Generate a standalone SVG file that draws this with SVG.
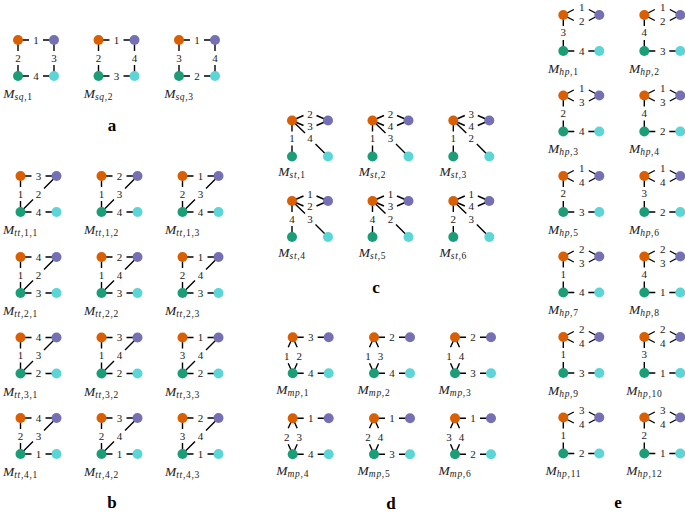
<svg xmlns="http://www.w3.org/2000/svg" xmlns:xlink="http://www.w3.org/1999/xlink" width="685" height="514" viewBox="0 0 685 514">
<style>
.cn{stroke:#000;stroke-width:1.4;fill:none;stroke-linecap:butt}
.o{fill:#d95f02}.p{fill:#7570b3}.g{fill:#1b9e77}.c{fill:#5bd5d5}
.el{font-family:"Liberation Serif",serif;font-size:11px;fill:#222;text-anchor:middle}
.nm{font-family:"Liberation Serif",serif;font-size:13.5px;font-style:italic;fill:#222;text-anchor:middle}
.sb{font-size:9.5px;letter-spacing:0.7px}
.up{font-style:normal}
.sec{font-family:"Liberation Serif",serif;font-size:17px;font-weight:bold;fill:#000;text-anchor:middle}
</style>
<defs>
<g id="q"><circle class="o" r="5"/><circle class="p" cx="36" r="5"/><circle class="g" cy="36" r="5"/><circle class="c" cx="36" cy="36" r="5"/></g>
<path id="e-sq" d="M0 0H11M25 0H36M0 0V11M0 25V36M36 0V11M36 25V36M0 36H11M25 36H36"/>
<path id="e-tt" d="M0 0H11M25 0H36M0 0V11M0 25V36M0 36H11M25 36H36M0 36L12.5 23.5M23.5 12.5L36 0"/>
<path id="e-st" d="M0 0L11.5 -5M24.5 -5L36 0M0 0L11.5 5M24.5 5L36 0M0 0V11M0 25V36M0 0L13 12.5M23.5 23.5L36 36"/>
<path id="e-mp" d="M0 0H11M25 0H36M0 36H11M25 36H36M0 0L-4.5 10M-4.5 26L0 36M0 0L4.5 10M4.5 26L0 36"/>
<path id="e-hp" d="M0 0L10.5 -5.5M25.5 -5.5L36 0M0 0L10.5 5.5M25.5 5.5L36 0M0 0V11M0 25V36M0 36H11M25 36H36"/>
</defs>
<g id="connectors" class="cn">
<use href="#e-sq" x="18" y="40"/><use href="#e-sq" x="98.5" y="40"/><use href="#e-sq" x="179" y="40"/>
<use href="#e-tt" x="20.5" y="176"/><use href="#e-tt" x="101.5" y="176"/><use href="#e-tt" x="182.5" y="176"/>
<use href="#e-tt" x="20.5" y="257"/><use href="#e-tt" x="101.5" y="257"/><use href="#e-tt" x="182.5" y="257"/>
<use href="#e-tt" x="20.5" y="337.5"/><use href="#e-tt" x="101.5" y="337.5"/><use href="#e-tt" x="182.5" y="337.5"/>
<use href="#e-tt" x="20.5" y="418"/><use href="#e-tt" x="101.5" y="418"/><use href="#e-tt" x="182.5" y="418"/>
<use href="#e-st" x="292" y="120.5"/><use href="#e-st" x="372.5" y="120.5"/><use href="#e-st" x="453.3" y="120.5"/>
<use href="#e-st" x="292" y="201"/><use href="#e-st" x="372.5" y="201"/><use href="#e-st" x="453.3" y="201"/>
<use href="#e-mp" x="292.7" y="337.3"/><use href="#e-mp" x="374" y="337.3"/><use href="#e-mp" x="455" y="337.3"/>
<use href="#e-mp" x="292.7" y="418.3"/><use href="#e-mp" x="374" y="418.3"/><use href="#e-mp" x="455" y="418.3"/>
<use href="#e-hp" x="563.3" y="15"/><use href="#e-hp" x="644.3" y="15"/>
<use href="#e-hp" x="563.3" y="95.5"/><use href="#e-hp" x="644.3" y="95.5"/>
<use href="#e-hp" x="563.3" y="176"/><use href="#e-hp" x="644.3" y="176"/>
<use href="#e-hp" x="563.3" y="256.5"/><use href="#e-hp" x="644.3" y="256.5"/>
<use href="#e-hp" x="563.3" y="337"/><use href="#e-hp" x="644.3" y="337"/>
<use href="#e-hp" x="563.3" y="417.5"/><use href="#e-hp" x="644.3" y="417.5"/>
</g>

<!-- a: squares -->
<g id="m-sq1" transform="translate(18,40)"><use href="#q"/><text class="el" x="18" y="3.8">1</text><text class="el" x="0" y="21.8">2</text><text class="el" x="36" y="21.8">3</text><text class="el" x="18" y="39.8">4</text><text class="nm" y="58">M<tspan class="sb" dy="2.3">sq</tspan><tspan class="sb up">,1</tspan></text></g>
<g id="m-sq2" transform="translate(98.5,40)"><use href="#q"/><text class="el" x="18" y="3.8">1</text><text class="el" x="0" y="21.8">2</text><text class="el" x="36" y="21.8">4</text><text class="el" x="18" y="39.8">3</text><text class="nm" y="58">M<tspan class="sb" dy="2.3">sq</tspan><tspan class="sb up">,2</tspan></text></g>
<g id="m-sq3" transform="translate(179,40)"><use href="#q"/><text class="el" x="18" y="3.8">1</text><text class="el" x="0" y="21.8">3</text><text class="el" x="36" y="21.8">4</text><text class="el" x="18" y="39.8">2</text><text class="nm" y="58">M<tspan class="sb" dy="2.3">sq</tspan><tspan class="sb up">,3</tspan></text></g>
<text class="sec" x="112" y="131">a</text>

<!-- b: tt -->
<g id="m-tt11" transform="translate(20.5,176)"><use href="#q"/><text class="el" x="18" y="3.8">3</text><text class="el" x="0" y="21.8">1</text><text class="el" x="18" y="21.8">2</text><text class="el" x="18" y="39.8">4</text><text class="nm" y="58">M<tspan class="sb" dy="2.3">tt</tspan><tspan class="sb up">,1,1</tspan></text></g>
<g id="m-tt12" transform="translate(101.5,176)"><use href="#q"/><text class="el" x="18" y="3.8">2</text><text class="el" x="0" y="21.8">1</text><text class="el" x="18" y="21.8">3</text><text class="el" x="18" y="39.8">4</text><text class="nm" y="58">M<tspan class="sb" dy="2.3">tt</tspan><tspan class="sb up">,1,2</tspan></text></g>
<g id="m-tt13" transform="translate(182.5,176)"><use href="#q"/><text class="el" x="18" y="3.8">1</text><text class="el" x="0" y="21.8">2</text><text class="el" x="18" y="21.8">3</text><text class="el" x="18" y="39.8">4</text><text class="nm" y="58">M<tspan class="sb" dy="2.3">tt</tspan><tspan class="sb up">,1,3</tspan></text></g>
<g id="m-tt21" transform="translate(20.5,257)"><use href="#q"/><text class="el" x="18" y="3.8">4</text><text class="el" x="0" y="21.8">1</text><text class="el" x="18" y="21.8">2</text><text class="el" x="18" y="39.8">3</text><text class="nm" y="58">M<tspan class="sb" dy="2.3">tt</tspan><tspan class="sb up">,2,1</tspan></text></g>
<g id="m-tt22" transform="translate(101.5,257)"><use href="#q"/><text class="el" x="18" y="3.8">2</text><text class="el" x="0" y="21.8">1</text><text class="el" x="18" y="21.8">4</text><text class="el" x="18" y="39.8">3</text><text class="nm" y="58">M<tspan class="sb" dy="2.3">tt</tspan><tspan class="sb up">,2,2</tspan></text></g>
<g id="m-tt23" transform="translate(182.5,257)"><use href="#q"/><text class="el" x="18" y="3.8">1</text><text class="el" x="0" y="21.8">2</text><text class="el" x="18" y="21.8">4</text><text class="el" x="18" y="39.8">3</text><text class="nm" y="58">M<tspan class="sb" dy="2.3">tt</tspan><tspan class="sb up">,2,3</tspan></text></g>
<g id="m-tt31" transform="translate(20.5,337.5)"><use href="#q"/><text class="el" x="18" y="3.8">4</text><text class="el" x="0" y="21.8">1</text><text class="el" x="18" y="21.8">3</text><text class="el" x="18" y="39.8">2</text><text class="nm" y="58">M<tspan class="sb" dy="2.3">tt</tspan><tspan class="sb up">,3,1</tspan></text></g>
<g id="m-tt32" transform="translate(101.5,337.5)"><use href="#q"/><text class="el" x="18" y="3.8">3</text><text class="el" x="0" y="21.8">1</text><text class="el" x="18" y="21.8">4</text><text class="el" x="18" y="39.8">2</text><text class="nm" y="58">M<tspan class="sb" dy="2.3">tt</tspan><tspan class="sb up">,3,2</tspan></text></g>
<g id="m-tt33" transform="translate(182.5,337.5)"><use href="#q"/><text class="el" x="18" y="3.8">1</text><text class="el" x="0" y="21.8">3</text><text class="el" x="18" y="21.8">4</text><text class="el" x="18" y="39.8">2</text><text class="nm" y="58">M<tspan class="sb" dy="2.3">tt</tspan><tspan class="sb up">,3,3</tspan></text></g>
<g id="m-tt41" transform="translate(20.5,418)"><use href="#q"/><text class="el" x="18" y="3.8">4</text><text class="el" x="0" y="21.8">2</text><text class="el" x="18" y="21.8">3</text><text class="el" x="18" y="39.8">1</text><text class="nm" y="58">M<tspan class="sb" dy="2.3">tt</tspan><tspan class="sb up">,4,1</tspan></text></g>
<g id="m-tt42" transform="translate(101.5,418)"><use href="#q"/><text class="el" x="18" y="3.8">3</text><text class="el" x="0" y="21.8">2</text><text class="el" x="18" y="21.8">4</text><text class="el" x="18" y="39.8">1</text><text class="nm" y="58">M<tspan class="sb" dy="2.3">tt</tspan><tspan class="sb up">,4,2</tspan></text></g>
<g id="m-tt43" transform="translate(182.5,418)"><use href="#q"/><text class="el" x="18" y="3.8">2</text><text class="el" x="0" y="21.8">3</text><text class="el" x="18" y="21.8">4</text><text class="el" x="18" y="39.8">1</text><text class="nm" y="58">M<tspan class="sb" dy="2.3">tt</tspan><tspan class="sb up">,4,3</tspan></text></g>
<text class="sec" x="112" y="508">b</text>

<!-- c: st -->
<g id="m-st1" transform="translate(292,120.5)"><use href="#q"/><text class="el" x="18" y="-2.7">2</text><text class="el" x="18" y="9.3">3</text><text class="el" x="0" y="21.8">1</text><text class="el" x="18" y="21.8">4</text><text class="nm" y="55.5">M<tspan class="sb" dy="2.3">st</tspan><tspan class="sb up">,1</tspan></text></g>
<g id="m-st2" transform="translate(372.5,120.5)"><use href="#q"/><text class="el" x="18" y="-2.7">2</text><text class="el" x="18" y="9.3">4</text><text class="el" x="0" y="21.8">1</text><text class="el" x="18" y="21.8">3</text><text class="nm" y="55.5">M<tspan class="sb" dy="2.3">st</tspan><tspan class="sb up">,2</tspan></text></g>
<g id="m-st3" transform="translate(453.3,120.5)"><use href="#q"/><text class="el" x="18" y="-2.7">3</text><text class="el" x="18" y="9.3">4</text><text class="el" x="0" y="21.8">1</text><text class="el" x="18" y="21.8">2</text><text class="nm" y="55.5">M<tspan class="sb" dy="2.3">st</tspan><tspan class="sb up">,3</tspan></text></g>
<g id="m-st4" transform="translate(292,201)"><use href="#q"/><text class="el" x="18" y="-2.7">1</text><text class="el" x="18" y="9.3">2</text><text class="el" x="0" y="21.8">4</text><text class="el" x="18" y="21.8">3</text><text class="nm" y="55.5">M<tspan class="sb" dy="2.3">st</tspan><tspan class="sb up">,4</tspan></text></g>
<g id="m-st5" transform="translate(372.5,201)"><use href="#q"/><text class="el" x="18" y="-2.7">1</text><text class="el" x="18" y="9.3">3</text><text class="el" x="0" y="21.8">4</text><text class="el" x="18" y="21.8">2</text><text class="nm" y="55.5">M<tspan class="sb" dy="2.3">st</tspan><tspan class="sb up">,5</tspan></text></g>
<g id="m-st6" transform="translate(453.3,201)"><use href="#q"/><text class="el" x="18" y="-2.7">1</text><text class="el" x="18" y="9.3">4</text><text class="el" x="0" y="21.8">2</text><text class="el" x="18" y="21.8">3</text><text class="nm" y="55.5">M<tspan class="sb" dy="2.3">st</tspan><tspan class="sb up">,6</tspan></text></g>
<text class="sec" x="376" y="293">c</text>

<!-- d: mp -->
<g id="m-mp1" transform="translate(292.7,337.3)"><use href="#q"/><text class="el" x="18" y="3.8">3</text><text class="el" x="-6" y="22.3">1</text><text class="el" x="6.5" y="22.3">2</text><text class="el" x="18" y="39.8">4</text><text class="nm" y="56.5">M<tspan class="sb" dy="2.3">mp</tspan><tspan class="sb up">,1</tspan></text></g>
<g id="m-mp2" transform="translate(374,337.3)"><use href="#q"/><text class="el" x="18" y="3.8">2</text><text class="el" x="-6" y="22.3">1</text><text class="el" x="6.5" y="22.3">3</text><text class="el" x="18" y="39.8">4</text><text class="nm" y="56.5">M<tspan class="sb" dy="2.3">mp</tspan><tspan class="sb up">,2</tspan></text></g>
<g id="m-mp3" transform="translate(455,337.3)"><use href="#q"/><text class="el" x="18" y="3.8">2</text><text class="el" x="-6" y="22.3">1</text><text class="el" x="6.5" y="22.3">4</text><text class="el" x="18" y="39.8">3</text><text class="nm" y="56.5">M<tspan class="sb" dy="2.3">mp</tspan><tspan class="sb up">,3</tspan></text></g>
<g id="m-mp4" transform="translate(292.7,418.3)"><use href="#q"/><text class="el" x="18" y="3.8">1</text><text class="el" x="-6" y="22.3">2</text><text class="el" x="6.5" y="22.3">3</text><text class="el" x="18" y="39.8">4</text><text class="nm" y="56.5">M<tspan class="sb" dy="2.3">mp</tspan><tspan class="sb up">,4</tspan></text></g>
<g id="m-mp5" transform="translate(374,418.3)"><use href="#q"/><text class="el" x="18" y="3.8">1</text><text class="el" x="-6" y="22.3">2</text><text class="el" x="6.5" y="22.3">4</text><text class="el" x="18" y="39.8">3</text><text class="nm" y="56.5">M<tspan class="sb" dy="2.3">mp</tspan><tspan class="sb up">,5</tspan></text></g>
<g id="m-mp6" transform="translate(455,418.3)"><use href="#q"/><text class="el" x="18" y="3.8">1</text><text class="el" x="-6" y="22.3">3</text><text class="el" x="6.5" y="22.3">4</text><text class="el" x="18" y="39.8">2</text><text class="nm" y="56.5">M<tspan class="sb" dy="2.3">mp</tspan><tspan class="sb up">,6</tspan></text></g>
<text class="sec" x="391" y="509">d</text>

<!-- e: hp -->
<g id="m-hp1" transform="translate(563.3,15)"><use href="#q"/><text class="el" x="18.5" y="-3.7">1</text><text class="el" x="18.5" y="10.3">2</text><text class="el" x="0" y="21.3">3</text><text class="el" x="18.5" y="39.8">4</text><text class="nm" y="57.5">M<tspan class="sb" dy="2.3">hp</tspan><tspan class="sb up">,1</tspan></text></g>
<g id="m-hp2" transform="translate(644.3,15)"><use href="#q"/><text class="el" x="18.5" y="-3.7">1</text><text class="el" x="18.5" y="10.3">2</text><text class="el" x="0" y="21.3">4</text><text class="el" x="18.5" y="39.8">3</text><text class="nm" y="57.5">M<tspan class="sb" dy="2.3">hp</tspan><tspan class="sb up">,2</tspan></text></g>
<g id="m-hp3" transform="translate(563.3,95.5)"><use href="#q"/><text class="el" x="18.5" y="-3.7">1</text><text class="el" x="18.5" y="10.3">3</text><text class="el" x="0" y="21.3">2</text><text class="el" x="18.5" y="39.8">4</text><text class="nm" y="57.5">M<tspan class="sb" dy="2.3">hp</tspan><tspan class="sb up">,3</tspan></text></g>
<g id="m-hp4" transform="translate(644.3,95.5)"><use href="#q"/><text class="el" x="18.5" y="-3.7">1</text><text class="el" x="18.5" y="10.3">3</text><text class="el" x="0" y="21.3">4</text><text class="el" x="18.5" y="39.8">2</text><text class="nm" y="57.5">M<tspan class="sb" dy="2.3">hp</tspan><tspan class="sb up">,4</tspan></text></g>
<g id="m-hp5" transform="translate(563.3,176)"><use href="#q"/><text class="el" x="18.5" y="-3.7">1</text><text class="el" x="18.5" y="10.3">4</text><text class="el" x="0" y="21.3">2</text><text class="el" x="18.5" y="39.8">3</text><text class="nm" y="57.5">M<tspan class="sb" dy="2.3">hp</tspan><tspan class="sb up">,5</tspan></text></g>
<g id="m-hp6" transform="translate(644.3,176)"><use href="#q"/><text class="el" x="18.5" y="-3.7">1</text><text class="el" x="18.5" y="10.3">4</text><text class="el" x="0" y="21.3">3</text><text class="el" x="18.5" y="39.8">2</text><text class="nm" y="57.5">M<tspan class="sb" dy="2.3">hp</tspan><tspan class="sb up">,6</tspan></text></g>
<g id="m-hp7" transform="translate(563.3,256.5)"><use href="#q"/><text class="el" x="18.5" y="-3.7">2</text><text class="el" x="18.5" y="10.3">3</text><text class="el" x="0" y="21.3">1</text><text class="el" x="18.5" y="39.8">4</text><text class="nm" y="57.5">M<tspan class="sb" dy="2.3">hp</tspan><tspan class="sb up">,7</tspan></text></g>
<g id="m-hp8" transform="translate(644.3,256.5)"><use href="#q"/><text class="el" x="18.5" y="-3.7">2</text><text class="el" x="18.5" y="10.3">3</text><text class="el" x="0" y="21.3">4</text><text class="el" x="18.5" y="39.8">1</text><text class="nm" y="57.5">M<tspan class="sb" dy="2.3">hp</tspan><tspan class="sb up">,8</tspan></text></g>
<g id="m-hp9" transform="translate(563.3,337)"><use href="#q"/><text class="el" x="18.5" y="-3.7">2</text><text class="el" x="18.5" y="10.3">4</text><text class="el" x="0" y="21.3">1</text><text class="el" x="18.5" y="39.8">3</text><text class="nm" y="57.5">M<tspan class="sb" dy="2.3">hp</tspan><tspan class="sb up">,9</tspan></text></g>
<g id="m-hp10" transform="translate(644.3,337)"><use href="#q"/><text class="el" x="18.5" y="-3.7">2</text><text class="el" x="18.5" y="10.3">4</text><text class="el" x="0" y="21.3">3</text><text class="el" x="18.5" y="39.8">1</text><text class="nm" y="57.5">M<tspan class="sb" dy="2.3">hp</tspan><tspan class="sb up">,10</tspan></text></g>
<g id="m-hp11" transform="translate(563.3,417.5)"><use href="#q"/><text class="el" x="18.5" y="-3.7">3</text><text class="el" x="18.5" y="10.3">4</text><text class="el" x="0" y="21.3">1</text><text class="el" x="18.5" y="39.8">2</text><text class="nm" y="57.5">M<tspan class="sb" dy="2.3">hp</tspan><tspan class="sb up">,11</tspan></text></g>
<g id="m-hp12" transform="translate(644.3,417.5)"><use href="#q"/><text class="el" x="18.5" y="-3.7">3</text><text class="el" x="18.5" y="10.3">4</text><text class="el" x="0" y="21.3">2</text><text class="el" x="18.5" y="39.8">1</text><text class="nm" y="57.5">M<tspan class="sb" dy="2.3">hp</tspan><tspan class="sb up">,12</tspan></text></g>
<text class="sec" x="618" y="508">e</text>
</svg>
